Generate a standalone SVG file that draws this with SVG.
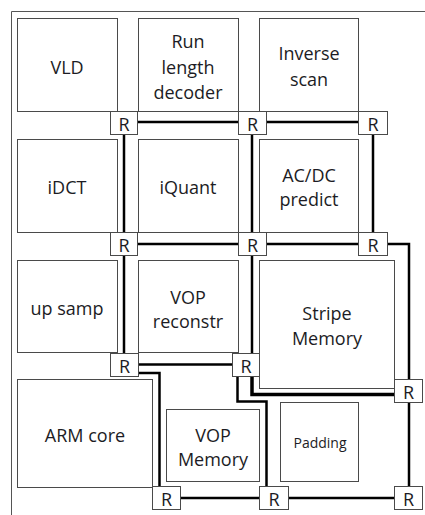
<svg xmlns="http://www.w3.org/2000/svg" width="425" height="515" viewBox="0 0 425 515">
<style>
.blk{fill:#fff;stroke:#4a4a4a;stroke-width:1}
.rt{fill:#fff;stroke:#4a4a4a;stroke-width:1}
.lbl{font-family:"Open Sans","Noto Sans","Liberation Sans",sans-serif;font-size:18px;fill:#1c1c24;text-anchor:middle}
.sm{font-size:14px}
.w{fill:none;stroke:#000;stroke-width:2.5;stroke-linejoin:miter}
.wt{stroke-width:3.5}
.frame{fill:none;stroke:#555;stroke-width:1}
</style>
<rect width="425" height="515" fill="#fff"/>
<path class="frame" d="M11.5,515 V11.5 H425"/>
<g id="VLD"><rect class="blk" x="17.5" y="18.5" width="100" height="93"/><text class="lbl" x="67" y="74">VLD</text></g>
<g id="RunLength"><rect class="blk" x="138.5" y="18.5" width="100" height="93"/><text class="lbl" x="188" y="48">Run</text><text class="lbl" x="188" y="73.5">length</text><text class="lbl" x="188" y="99">decoder</text></g>
<g id="InverseScan"><rect class="blk" x="259.5" y="18.5" width="99" height="93"/><text class="lbl" x="309" y="60">Inverse</text><text class="lbl" x="309" y="86">scan</text></g>
<g id="iDCT"><rect class="blk" x="17.5" y="139.5" width="100" height="93"/><text class="lbl" x="67" y="194">iDCT</text></g>
<g id="iQuant"><rect class="blk" x="138.5" y="139.5" width="100" height="93"/><text class="lbl" x="188" y="194">iQuant</text></g>
<g id="ACDC"><rect class="blk" x="259.5" y="139.5" width="99" height="93"/><text class="lbl" x="309" y="181.5">AC/DC</text><text class="lbl" x="309" y="205.5">predict</text></g>
<g id="upsamp"><rect class="blk" x="17.5" y="260.5" width="100" height="92"/><text class="lbl" x="67" y="315">up samp</text></g>
<g id="VOPreconstr"><rect class="blk" x="138.5" y="260.5" width="100" height="92"/><text class="lbl" x="188" y="304">VOP</text><text class="lbl" x="188" y="328">reconstr</text></g>
<g id="StripeMemory"><rect class="blk" x="259.5" y="260.5" width="135" height="128"/><text class="lbl" x="327" y="320">Stripe</text><text class="lbl" x="327" y="345">Memory</text></g>
<g id="ARMcore"><rect class="blk" x="17.5" y="379.5" width="135" height="108"/><text class="lbl" x="85" y="442">ARM core</text></g>
<g id="VOPMemory"><rect class="blk" x="166.5" y="409.5" width="93" height="72"/><text class="lbl" x="213" y="442">VOP</text><text class="lbl" x="213" y="466">Memory</text></g>
<g id="Padding"><rect class="blk" x="280.5" y="402.5" width="78" height="79"/><text class="lbl sm" x="320" y="448">Padding</text></g>
<g id="connectors">
<path class="w" d="M137,122 H239 M266,122 H359"/>
<path class="w" d="M124,134 V233 M252,134 V233 M373,134 V233"/>
<path class="w" d="M137,244 H239 M266,244 H359 M387,244 H409 V380"/>
<path class="w" d="M124,255 V353 M252,255 V353"/>
<path class="w" d="M138,364.5 H232"/>
<path class="w" d="M138,373 H159.5 V486"/>
<path class="w" d="M237.5,377 V401.5 H266.5 V486"/>
<path class="w wt" d="M252,377 V394.5 H395"/>
<path class="w" d="M409,402 V486"/>
<path class="w" d="M181,498 H260 M288,498 H395"/>
</g>
<g id="R1"><rect class="rt" x="110.5" y="111.5" width="27" height="23"/><text class="lbl" x="124" y="131">R</text></g>
<g id="R2"><rect class="rt" x="238.5" y="111.5" width="28" height="23"/><text class="lbl" x="252.5" y="131">R</text></g>
<g id="R3"><rect class="rt" x="358.5" y="111.5" width="29" height="23"/><text class="lbl" x="373" y="131">R</text></g>
<g id="R4"><rect class="rt" x="110.5" y="232.5" width="27" height="23"/><text class="lbl" x="124" y="252">R</text></g>
<g id="R5"><rect class="rt" x="238.5" y="232.5" width="28" height="23"/><text class="lbl" x="252.5" y="252">R</text></g>
<g id="R6"><rect class="rt" x="358.5" y="232.5" width="29" height="23"/><text class="lbl" x="373" y="252">R</text></g>
<g id="R7"><rect class="rt" x="110.5" y="353.5" width="28" height="23"/><text class="lbl" x="124.5" y="373">R</text></g>
<g id="R8"><rect class="rt" x="232.5" y="353.5" width="27" height="23"/><text class="lbl" x="246" y="373">R</text></g>
<g id="R9"><rect class="rt" x="394.5" y="379.5" width="28" height="23"/><text class="lbl" x="408.5" y="399">R</text></g>
<g id="R10"><rect class="rt" x="152.5" y="486.5" width="28" height="23"/><text class="lbl" x="166.5" y="506">R</text></g>
<g id="R11"><rect class="rt" x="259.5" y="486.5" width="29" height="23"/><text class="lbl" x="274" y="506">R</text></g>
<g id="R12"><rect class="rt" x="394.5" y="486.5" width="28" height="23"/><text class="lbl" x="408.5" y="506">R</text></g>
</svg>
